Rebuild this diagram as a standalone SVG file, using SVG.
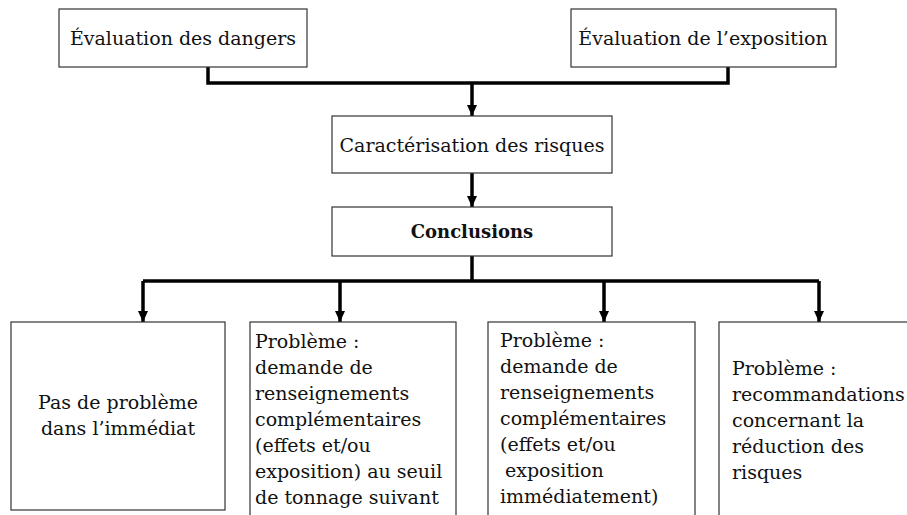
<svg xmlns="http://www.w3.org/2000/svg" width="907" height="515" viewBox="0 0 907 515">
  <style>
    .box { fill: #ffffff; stroke: #333333; stroke-width: 1.2; }
    .t { font-family: "DejaVu Serif", "Liberation Serif", serif; font-size: 19px; fill: #111111; }
    .c { text-anchor: middle; }
    .b { font-weight: bold; font-size: 18px; }
    .conn { fill: none; stroke: #000000; stroke-width: 3.5; }
  </style>
  <defs>
    <marker id="arrow" markerUnits="userSpaceOnUse" markerWidth="12" markerHeight="12" refX="11" refY="5" orient="auto">
      <path d="M0,0 L11,5 L0,10 Z" fill="#000000"/>
    </marker>
  </defs>
  <rect width="907" height="515" fill="#ffffff"/>

  <g id="connectors">
    <path class="conn" d="M208,67 V83 H728 V67"/>
    <path class="conn" d="M472,83 V116" marker-end="url(#arrow)"/>
    <path class="conn" d="M472,173 V207" marker-end="url(#arrow)"/>
    <path class="conn" d="M472,256 V281"/>
    <path class="conn" d="M143,281 H819"/>
    <path class="conn" d="M143,281 V322" marker-end="url(#arrow)"/>
    <path class="conn" d="M340,281 V322" marker-end="url(#arrow)"/>
    <path class="conn" d="M604,281 V322" marker-end="url(#arrow)"/>
    <path class="conn" d="M819,281 V322" marker-end="url(#arrow)"/>
  </g>

  <g id="eval-dangers">
    <rect class="box" x="59" y="9" width="248" height="58"/>
    <text class="t c" x="183" y="45">Évaluation des dangers</text>
  </g>
  <g id="eval-exposition">
    <rect class="box" x="571" y="9" width="265" height="58"/>
    <text class="t c" x="703" y="45">Évaluation de l’exposition</text>
  </g>
  <g id="caracterisation">
    <rect class="box" x="332" y="116" width="280" height="57"/>
    <text class="t c" x="472" y="152">Caractérisation des risques</text>
  </g>
  <g id="conclusions">
    <rect class="box" x="332" y="207" width="280" height="49"/>
    <text class="t c b" x="472" y="238">Conclusions</text>
  </g>
  <g id="pas-de-probleme">
    <rect class="box" x="11" y="322" width="214" height="188"/>
    <text class="t c" x="118" y="409">Pas de problème</text>
    <text class="t c" x="118" y="435">dans l’immédiat</text>
  </g>
  <g id="probleme-seuil">
    <rect class="box" x="250" y="322" width="206" height="200"/>
    <text class="t" x="255" y="348">Problème :</text>
    <text class="t" x="255" y="374">demande de</text>
    <text class="t" x="255" y="400">renseignements</text>
    <text class="t" x="255" y="426">complémentaires</text>
    <text class="t" x="255" y="452">(effets et/ou</text>
    <text class="t" x="255" y="478">exposition) au seuil</text>
    <text class="t" x="255" y="504">de tonnage suivant</text>
  </g>
  <g id="probleme-immediat">
    <rect class="box" x="488" y="322" width="207" height="200"/>
    <text class="t" x="500" y="347">Problème :</text>
    <text class="t" x="500" y="373">demande de</text>
    <text class="t" x="500" y="399">renseignements</text>
    <text class="t" x="500" y="425">complémentaires</text>
    <text class="t" x="500" y="451">(effets et/ou</text>
    <text class="t" x="505" y="477">exposition</text>
    <text class="t" x="500" y="503">immédiatement)</text>
  </g>
  <g id="probleme-reduction">
    <rect class="box" x="719" y="322" width="200" height="200"/>
    <text class="t" x="732" y="375">Problème :</text>
    <text class="t" x="732" y="401">recommandations</text>
    <text class="t" x="732" y="427">concernant la</text>
    <text class="t" x="732" y="453">réduction des</text>
    <text class="t" x="732" y="479">risques</text>
  </g>
</svg>
